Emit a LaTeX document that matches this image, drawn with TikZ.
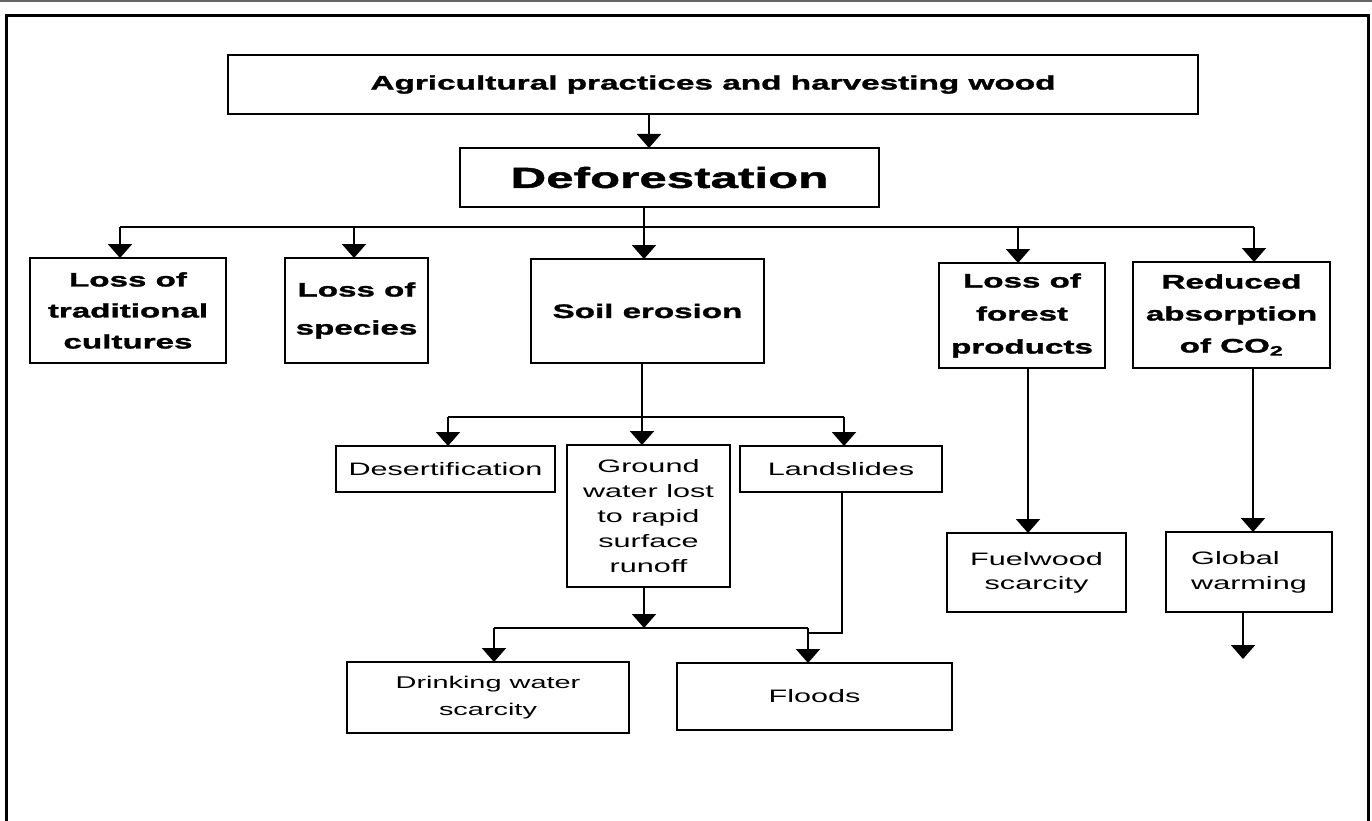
\documentclass[tikz,border=0pt]{standalone}
\usepackage{fontspec}
\newfontfamily\wf[FakeStretch=1.7,BoldFeatures={FakeBold=1.6}]{Liberation Sans}
\usetikzlibrary{arrows.meta}
\begin{document}
\begin{tikzpicture}[x=1pt,y=-1pt,
  ln/.style={line width=2pt},
  arr/.style={line width=2pt,-{Triangle[width=24pt,length=14pt]}},
  box/.style={draw,line width=2pt,inner sep=0pt,outer sep=0pt,align=center},
  bt/.style={font=\wf\bfseries\fontsize{19.5}{#1}\selectfont},
  rt/.style={font=\wf\fontsize{18}{#1}\selectfont}]
\useasboundingbox (0,0) rectangle (1372,821);
% frame
\draw[line width=2pt,black!60] (0,1) -- (1372,1);
\draw[line width=3pt] (6,821) -- (6,16) -- (1368,16) -- (1368,821);
% nodes
\node[box,minimum width=970pt,minimum height=59pt,font=\wf\bfseries\fontsize{19.6}{24}\selectfont] (top) at (713,84.5) {Agricultural practices and harvesting wood};
\node[box,minimum width=419pt,minimum height=59pt,font=\wf\bfseries\fontsize{29}{34}\selectfont] (defo) at (669.5,177.5) {Deforestation};
\node[box,bt=31,minimum width=196pt,minimum height=105pt] (ltc) at (128,310.5) {Loss of\\traditional\\cultures};
\node[box,bt=38,minimum width=143pt,minimum height=105pt] (lsp) at (356.5,310.5) {Loss of\\species};
\node[box,bt=24,minimum width=233pt,minimum height=104pt] (soil) at (647.5,311) {Soil erosion};
\node[box,bt=33,minimum width=166pt,minimum height=105pt] (lfp) at (1022,315.5) {Loss of\\forest\\products};
\node[box,bt=32,minimum width=197pt,minimum height=106pt] (rac) at (1231.5,315) {Reduced\\absorption\\of CO\textsubscript{2}};
\node[box,rt=22,minimum width=219pt,minimum height=46pt] (des) at (445.5,469) {Desertification};
\node[box,rt=25,minimum width=163pt,minimum height=142pt] (gnd) at (648.5,516) {Ground\\water lost\\to rapid\\surface\\runoff};
\node[box,rt=22,minimum width=202pt,minimum height=46pt] (lsl) at (841,469) {Landslides};
\node[box,rt=24,minimum width=179pt,minimum height=79pt] (fw) at (1036.5,572.5) {Fuelwood\\scarcity};
\node[box,rt=25,align=left,minimum width=166pt,minimum height=80pt] (gw) at (1249,572) {Global\\warming};
\node[box,font=\wf\fontsize{17}{27}\selectfont,minimum width=282pt,minimum height=71pt] (dws) at (488,697.5) {Drinking water\\scarcity};
\node[box,rt=22,minimum width=275pt,minimum height=67pt] (fl) at (814.5,696.5) {Floods};
% coordinates
\coordinate (a0) at (649,0);
\coordinate (b1) at (120,227);
\coordinate (b2) at (354,227);
\coordinate (b3) at (644,227);
\coordinate (b4) at (1018,227);
\coordinate (b5) at (1254,227);
\coordinate (c1) at (448,417);
\coordinate (c2) at (642,417);
\coordinate (c3) at (844,417);
\coordinate (d0) at (644,628);
\coordinate (d1) at (494,628);
\coordinate (d2) at (808,628);
\coordinate (e1) at (842,633);
\coordinate (f1) at (1028,0);
\coordinate (f2) at (1253,0);
\coordinate (gend) at (1243,659);
% connectors
\draw[arr] (top.south -| a0) -- (defo.north -| a0);
\draw[ln] (defo.south -| b3) -- (b3);
\draw[ln] (b1) -- (b5);
\foreach \b/\n in {b1/ltc,b2/lsp,b3/soil,b4/lfp,b5/rac}
  \draw[arr] (\b) -- (\n.north -| \b);
\draw[ln] (soil.south -| c2) -- (c2);
\draw[ln] (c1) -- (c3);
\foreach \c/\n in {c1/des,c2/gnd,c3/lsl}
  \draw[arr] (\c) -- (\n.north -| \c);
\draw[arr] (gnd.south -| d0) -- (d0);
\draw[ln] (d1) -- (d2);
\draw[arr] (d1) -- (dws.north -| d1);
\draw[arr] (d2) -- (fl.north -| d2);
\draw[ln] (lsl.south -| e1) -- (e1) -- (e1 -| d2);
\draw[arr] (lfp.south -| f1) -- (fw.north -| f1);
\draw[arr] (rac.south -| f2) -- (gw.north -| f2);
\draw[arr] (gw.south -| gend) -- (gend);
\end{tikzpicture}
\end{document}
